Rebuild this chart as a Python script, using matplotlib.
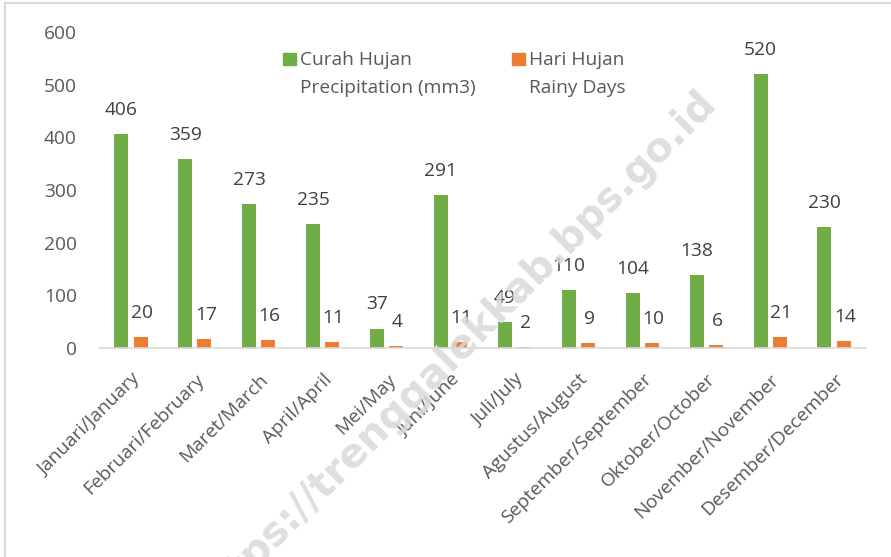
import matplotlib
matplotlib.use("Agg")
import matplotlib.pyplot as plt
from matplotlib.patches import Rectangle
from matplotlib.lines import Line2D
import numpy as np

plt.rcParams['font.family'] = ['Open Sans', 'DejaVu Sans']

months = ["Januari/January", "Februari/February", "Maret/March", "April/April",
          "Mei/May", "Juni/June", "Juli/July", "Agustus/August",
          "September/September", "Oktober/October", "November/November",
          "Desember/December"]
precipitation = [406, 359, 273, 235, 37, 291, 49, 110, 104, 138, 520, 230]
rainy_days = [20, 17, 16, 11, 4, 11, 2, 9, 10, 6, 21, 14]
yticks = [0, 100, 200, 300, 400, 500, 600]

GREEN = "#70AD47"
ORANGE = "#ED7D31"
TXT = "#595959"
FS = 13.8
W, H = 891, 557

fig = plt.figure(figsize=(W / 100, H / 100), dpi=100)
fig.patch.set_facecolor("white")

# border
fig.add_artist(Line2D([5 / W, 5 / W], [0, 1 - 3 / H], color="#d9d9d9", lw=1.5, transform=fig.transFigure))
fig.add_artist(Line2D([5 / W, 1], [1 - 3 / H, 1 - 3 / H], color="#d9d9d9", lw=1.5, transform=fig.transFigure))

# watermark
fig.text(455 / W, 1 - 352 / H, "https://trenggalekkab.bps.go.id", rotation=45,
         ha="center", va="center", fontsize=29, fontweight="bold",
         color="#d9d9d9", alpha=0.85, zorder=0, family="DejaVu Sans")

ax = fig.add_axes([99 / W, 1 - 348 / H, (866 - 99) / W, (348 - 32) / H])
ax.set_facecolor("none")
x = np.arange(len(months))
bw = 0.22
off = 0.15
ax.bar(x - off, precipitation, bw, color=GREEN, zorder=2)
ax.bar(x + off, rainy_days, bw, color=ORANGE, zorder=2)

for xi, v in zip(x, precipitation):
    ax.annotate(str(v), (xi - off, v), xytext=(0, 17.3), textcoords="offset points",
                ha="center", va="center", fontsize=FS, color="#404040")
for xi, v in zip(x, rainy_days):
    ax.annotate(str(v), (xi + off + 0.02, v), xytext=(0, 17.3), textcoords="offset points",
                ha="center", va="center", fontsize=FS, color="#404040")

ax.set_xlim(-0.5, len(months) - 0.5)
ax.set_ylim(0, 600)
ax.set_yticks(yticks)
ax.set_yticklabels([str(t) for t in yticks], fontsize=FS, color=TXT)
ax.set_xticks(x)
ax.set_xticklabels(months, rotation=45, ha="right", rotation_mode="anchor",
                   fontsize=FS, color=TXT)
ax.tick_params(axis="both", length=0)
ax.tick_params(axis="y", pad=16)
ax.tick_params(axis="x", pad=16)
for s in ["top", "right", "left"]:
    ax.spines[s].set_visible(False)
ax.spines["bottom"].set_color("#d9d9d9")
ax.spines["bottom"].set_linewidth(1.2)

# legend (manual)
def leg(xpx, color, lines):
    fig.add_artist(Rectangle((xpx / W, 1 - 65 / H), 13 / W, 12 / H, color=color,
                             transform=fig.transFigure))
    for i, t in enumerate(lines):
        fig.text((xpx + 17) / W, 1 - (60 + 28 * i) / H, t, ha="left", va="center",
                 fontsize=FS, color=TXT)

leg(283, GREEN, ["Curah Hujan", "Precipitation (mm3)"])
leg(512, ORANGE, ["Hari Hujan", "Rainy Days"])

fig.savefig("out.png", dpi=100)
